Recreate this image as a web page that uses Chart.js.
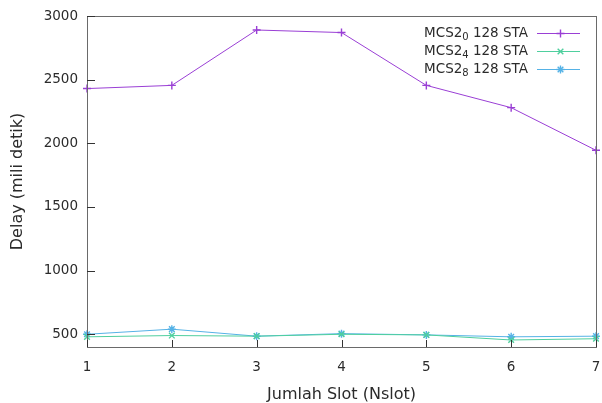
<!DOCTYPE html>
<html>
<head>
<meta charset="utf-8">
<script src="https://cdn.jsdelivr.net/npm/chart.js@4/dist/chart.umd.min.js"></script>
<style>
  html, body { margin: 0; padding: 0; background: #ffffff; }
  #wrap { width: 602px; height: 403px; }
</style>
</head>
<body>
<div id="wrap"><canvas id="c" width="602" height="403"></canvas></div>
<script>
// Delay per number of slots (Nslot) for three MCS settings, 128 STA
const slots = [1, 2, 3, 4, 5, 6, 7];
const mcs0 = [2430, 2455, 2890, 2870, 2455, 2280, 1945];
const mcs4 = [480, 490, 485, 500, 495, 455, 465];
const mcs8 = [500, 540, 485, 505, 495, 480, 485];
const yTicks = [500, 1000, 1500, 2000, 2500, 3000];

// legend label parts: base, subscript, tail
const labels = [
  ['MCS2', '0', ' 128 STA'],
  ['MCS2', '4', ' 128 STA'],
  ['MCS2', '8', ' 128 STA']
];
const colors = ['#9a3fd5', '#4fcf9e', '#55b2e6'];
const markers = ['cross', 'crossRot', 'star'];
const seriesValues = [mcs0, mcs4, mcs8];

const FONT = 'DejaVu Sans';
const TEXT = '#2b2b2b';

const toPoints = vals => slots.map((s, i) => ({ x: s, y: vals[i] }));

const datasets = seriesValues.map((vals, k) => ({
  label: labels[k].join(''),
  data: toPoints(vals),
  borderColor: colors[k],
  backgroundColor: colors[k],
  borderWidth: 1,
  pointStyle: markers[k],
  pointRadius: 4,
  pointBorderWidth: 1.4,
  pointHoverRadius: 4,
  tension: 0,
  clip: false
}));

// frame, inward tick marks and the legend with subscripts
const decor = {
  id: 'decor',
  afterDraw(chart) {
    const ctx = chart.ctx;
    const a = chart.chartArea;
    const xs = chart.scales.x, ys = chart.scales.y;
    ctx.save();
    ctx.strokeStyle = '#6a6a6a';
    ctx.lineWidth = 1;
    ctx.strokeRect(Math.round(a.left) + 0.5, Math.round(a.top) + 0.5,
                   Math.round(a.right - a.left), Math.round(a.bottom - a.top));
    ctx.strokeStyle = '#333';
    ctx.beginPath();
    yTicks.forEach(v => {
      const y = Math.round(ys.getPixelForValue(v)) + 0.5;
      ctx.moveTo(a.left, y); ctx.lineTo(a.left + 8, y);
    });
    slots.forEach(v => {
      const x = Math.round(xs.getPixelForValue(v)) + 0.5;
      ctx.moveTo(x, a.bottom); ctx.lineTo(x, a.bottom - 7);
    });
    ctx.stroke();

    // legend
    const textRight = 528, lineL = 537, lineR = 580, rowY = [33, 51, 69];
    labels.forEach((parts, k) => {
      const y = rowY[k];
      ctx.fillStyle = TEXT;
      ctx.textBaseline = 'middle';
      ctx.textAlign = 'left';
      ctx.font = '13.5px "' + FONT + '"';
      const w0 = ctx.measureText(parts[0]).width;
      const w2 = ctx.measureText(parts[2]).width;
      ctx.font = '10px "' + FONT + '"';
      const w1 = ctx.measureText(parts[1]).width;
      let x = textRight - (w0 + w1 + w2);
      ctx.font = '13.5px "' + FONT + '"';
      ctx.fillText(parts[0], x, y);
      x += w0;
      ctx.font = '10px "' + FONT + '"';
      ctx.fillText(parts[1], x, y + 4);
      x += w1;
      ctx.font = '13.5px "' + FONT + '"';
      ctx.fillText(parts[2], x, y);

      ctx.strokeStyle = colors[k];
      ctx.fillStyle = colors[k];
      ctx.lineWidth = 1;
      ctx.beginPath();
      ctx.moveTo(lineL, y + 0.5); ctx.lineTo(lineR, y + 0.5);
      ctx.stroke();
      ctx.lineWidth = 1.4;
      Chart.helpers.drawPoint(ctx, {
        pointStyle: markers[k], radius: 4, rotation: 0, borderWidth: 1.4
      }, (lineL + lineR) / 2 + 2, y + 0.5);
    });
    ctx.restore();
  }
};

new Chart(document.getElementById('c'), {
  type: 'line',
  data: { datasets },
  options: {
    responsive: false,
    devicePixelRatio: 1,
    animation: false,
    events: [],
    layout: { padding: { top: 16, right: 6, left: 0, bottom: 0 } },
    plugins: { legend: { display: false }, tooltip: { enabled: false } },
    scales: {
      x: {
        type: 'linear',
        min: 1, max: 7,
        afterBuildTicks: s => { s.ticks = slots.map(v => ({ value: v })); },
        afterFit: s => { s.height = 56; s.paddingRight = 0; s.paddingLeft = 0; },
        grid: { display: false, drawTicks: false },
        border: { display: false },
        ticks: {
          color: TEXT, font: { family: FONT, size: 13.5 }, padding: 12, maxRotation: 0,
          callback: v => String(v)
        },
        title: {
          display: true, text: 'Jumlah Slot (Nslot)', color: TEXT,
          font: { family: FONT, size: 16, lineHeight: 1 }, padding: { top: 0, bottom: 0 }
        }
      },
      y: {
        type: 'linear',
        min: 400, max: 3000,
        afterBuildTicks: s => { s.ticks = yTicks.map(v => ({ value: v })); },
        afterFit: s => { s.width = 87; s.paddingTop = 0; s.paddingBottom = 0; },
        grid: { display: false, drawTicks: false },
        border: { display: false },
        ticks: {
          color: TEXT, font: { family: FONT, size: 13.5 }, padding: 9,
          callback: v => String(v)
        },
        title: {
          display: true, text: 'Delay (mili detik)', color: TEXT,
          font: { family: FONT, size: 16, lineHeight: 1 }, padding: { top: 10, bottom: 0 }
        }
      }
    }
  },
  plugins: [decor]
});
</script>
</body>
</html>
